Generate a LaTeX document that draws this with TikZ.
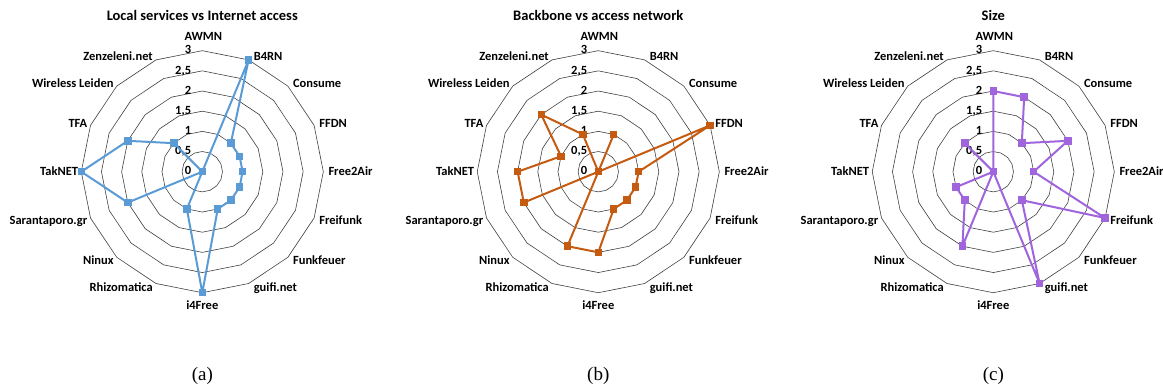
\documentclass[tikz,border=0pt]{standalone}
\usepackage{fontspec}
\setmainfont{Liberation Serif}
\newfontfamily\chartfont{Carlito}
\usetikzlibrary{calc}

\definecolor{seriesblue}{RGB}{91,155,213}
\definecolor{seriesorange}{RGB}{197,90,17}
\definecolor{seriespurple}{RGB}{160,100,220}

\tikzset{
  grid ring/.style={draw=black!75, line width=0.6pt},
  axis label/.style={font=\chartfont\bfseries\fontsize{12.5}{15}\selectfont, inner sep=0pt},
  tick label/.style={font=\chartfont\bfseries\fontsize{12.5}{15}\selectfont, anchor=mid east, inner sep=0pt},
  chart title/.style={font=\chartfont\bfseries\fontsize{14.5}{17}\selectfont},
  series/.style={line width=2pt, line join=round},
  marker/.style={fill, minimum size=7.5pt, inner sep=0pt},
  caption/.style={font=\fontsize{19}{22}\selectfont}
}

\newcommand{\netnames}{AWMN,B4RN,Consume,FFDN,Free2Air,Freifunk,Funkfeuer,guifi.net,i4Free,Rhizomatica,Ninux,Sarantaporo.gr,TakNET,TFA,Wireless Leiden,Zenzeleni.net}

\newcommand{\radarchart}[5]{%
  \begin{scope}[shift={(#2,217.3)}]
    \foreach \r in {1,...,6}
      \draw[grid ring] (90:{\r*20.17}) \foreach \k in {1,...,15} {-- ({90-22.5*\k}:{\r*20.17})} -- cycle;
    \foreach \t [count=\k from 0] in {0,{0,5},1,{1,5},2,{2,5},3}
      \node[tick label] (#1-t\k) at (-11,{\k*20.17-1}) {\t};
    \foreach \n [count=\k from 0] in \netnames {
      \pgfmathsetmacro{\ang}{90-22.5*\k}
      \ifnum\k=0
        \node[axis label] (#1-n\k) at (1,135) {\n};
      \else\ifnum\k=8
        \node[axis label] (#1-n\k) at (0,-133) {\n};
      \else\ifnum\k<8
        \node[axis label, anchor=mid west] (#1-n\k) at ($(\ang:121)+(5,{4.5*sin(\ang)-2})$) {\n};
      \else
        \node[axis label, anchor=mid east] (#1-n\k) at ($(\ang:121)+(-3,{4.5*sin(\ang)-2})$) {\n};
      \fi\fi\fi}
    \foreach \v [count=\k from 0] in {#5}
      \coordinate (#1-p\k) at ({90-22.5*\k}:{\v*40.33});
    \draw[series, #3] (#1-p0) \foreach \k in {1,...,15} {-- (#1-p\k)} -- cycle;
    \foreach \k in {0,...,15}
      \node[marker, #3] (#1-m\k) at (#1-p\k) {};
    \node[chart title] (#1-title) at (0,156) {#4};
    \node[caption] (#1-cap) at (0,-204.3) {(#1)};
  \end{scope}}

\begin{document}
\begin{tikzpicture}[x=1pt, y=1pt]
  \useasboundingbox (0,0) rectangle (1163,389);
  \radarchart{a}{202.3}{seriesblue}{Local services vs Internet access}{0,3,1,1,1,1,1,1,3,1,0,2,3,2,1,0}
  \radarchart{b}{598.3}{seriesorange}{Backbone vs access network}{0,1,0,3,1,1,1,1,2,2,0,2,2,1,2,1}
  \radarchart{c}{993.3}{seriespurple}{Size}{2,2,1,2,1,3,1,3,0,2,1,1,0,0,1,0}
\end{tikzpicture}
\end{document}
